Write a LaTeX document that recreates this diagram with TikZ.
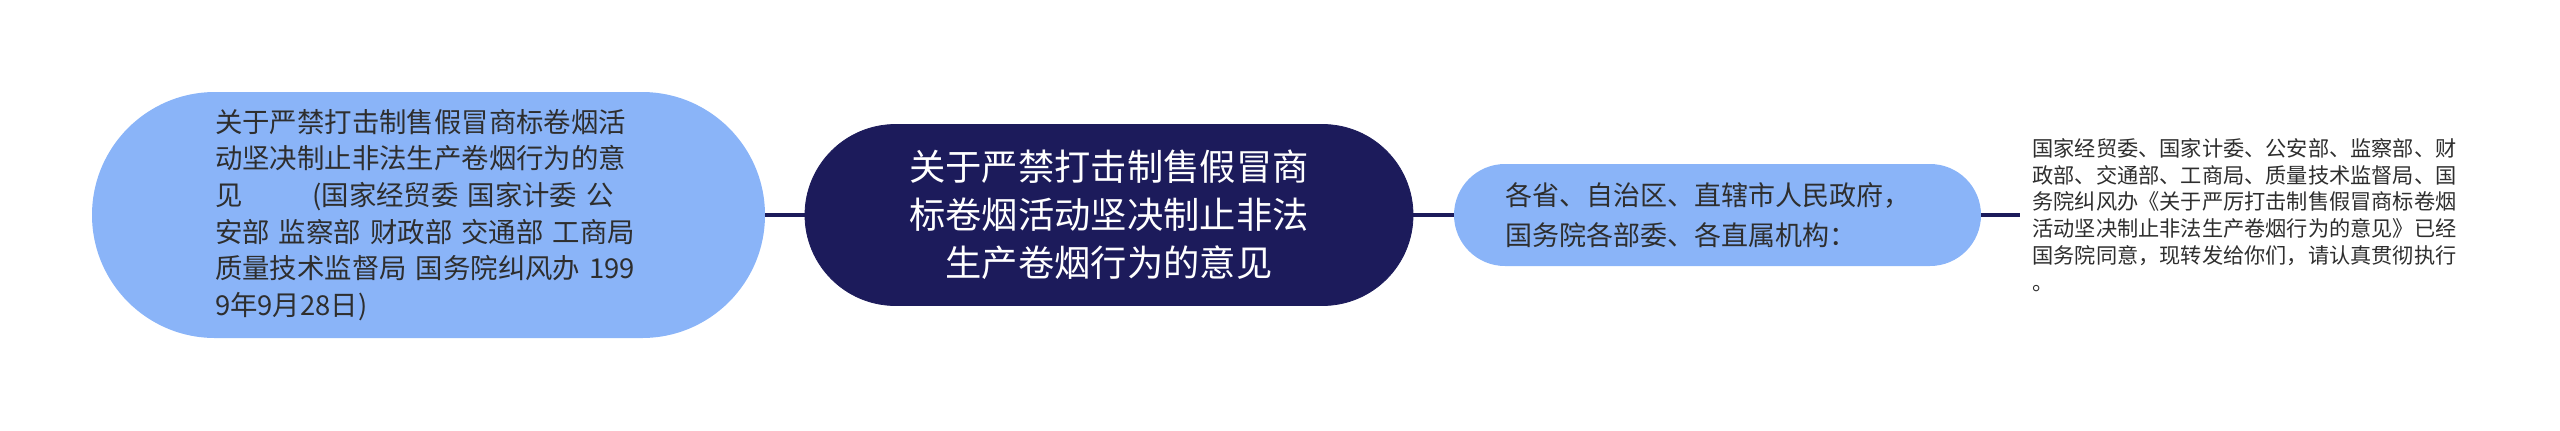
\documentclass[tikz,border=0pt]{standalone}
\usepackage{fontspec}
\setmainfont{Noto Sans CJK SC}
\usetikzlibrary{shapes.misc}
\definecolor{navy}{HTML}{1C1B5B}
\definecolor{lblue}{HTML}{8AB4F8}
\definecolor{txtgray}{HTML}{2E2E2E}
\tikzset{
  pill/.style={rounded rectangle, inner sep=0pt, fill=lblue, text=txtgray},
  rootpill/.style={rounded rectangle, inner sep=0pt, fill=navy, draw=navy, text=white},
  link/.style={draw=navy, line width=2pt},
  plain/.style={inner xsep=6pt, inner ysep=0pt, text=txtgray, align=left}
}
\begin{document}
\begin{tikzpicture}[x=0.5pt,y=-0.5pt]
\useasboundingbox (0,0) rectangle (2560,430);
\node[pill, minimum width=336.5pt, minimum height=123pt, text width=213.5pt, align=left,
  font=\fontsize{13.7pt}{18.35pt}\selectfont] (left) at (428.5,215)
  {关于严禁打击制售假冒商标卷烟活\\动坚决制止非法生产卷烟行为的意\\见\hspace{35pt}(国家经贸委 国家计委 公\\安部 监察部 财政部 交通部 工商局\\质量技术监督局 国务院纠风办 199\\9年9月28日)};
\node[rootpill, minimum width=304pt, minimum height=90.5pt, align=center,
  font=\fontsize{18.15pt}{24pt}\selectfont] (root) at (1109,215)
  {关于严禁打击制售假冒商\\标卷烟活动坚决制止非法\\生产卷烟行为的意见};
\node[pill, minimum width=263.5pt, minimum height=51pt, text width=212.5pt, align=left,
  font=\fontsize{13.5pt}{20pt}\selectfont] (mid) at (1717.5,215)
  {各省、自治区、直辖市人民政府，\\国务院各部委、各直属机构：};
\node[plain, anchor=west, font=\fontsize{10.6pt}{13.35pt}\selectfont] (txt) at (2020,215)
  {国家经贸委、国家计委、公安部、监察部、财\\政部、交通部、工商局、质量技术监督局、国\\务院纠风办《关于严厉打击制售假冒商标卷烟\\活动坚决制止非法生产卷烟行为的意见》已经\\国务院同意，现转发给你们，请认真贯彻执行\\。};
\draw[link] (left.east) -- (root.west);
\draw[link] (root.east) -- (mid.west);
\draw[link] (mid.east) -- (txt.west);
\end{tikzpicture}
\end{document}
